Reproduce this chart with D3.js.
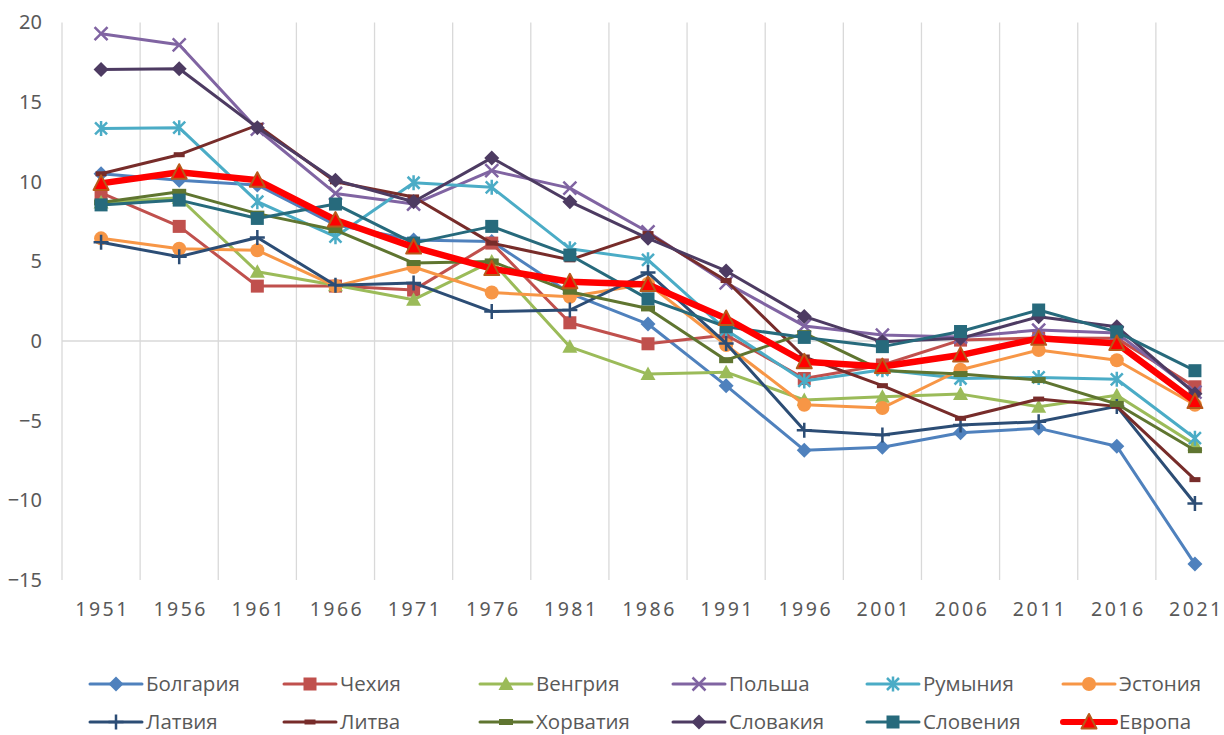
<!DOCTYPE html>
<html>
<head>
<meta charset="utf-8">
<script src="https://cdn.jsdelivr.net/npm/d3@7"></script>
<style>
  body { margin: 0; background: #fff; }
  text { fill: #595959; }
</style>
</head>
<body>
<svg class="display"></svg>
<script>
const years = ['1951', '1956', '1961', '1966', '1971', '1976', '1981', '1986', '1991', '1996', '2001', '2006', '2011', '2016', '2021'];
const yTicks = [-15, -10, -5, 0, 5, 10, 15, 20];

const bulgaria  = [10.5, 10.1, 9.8, 7.3, 6.35, 6.25, 3.0, 1.07, -2.8, -6.85, -6.67, -5.75, -5.48, -6.6, -14.0];
const czechia   = [9.3, 7.2, 3.45, 3.45, 3.2, 6.15, 1.15, -0.17, 0.38, -2.35, -1.5, 0.06, 0.2, 0.17, -2.87];
const hungary   = [8.7, 9.0, 4.35, 3.5, 2.6, 5.0, -0.36, -2.07, -1.95, -3.7, -3.5, -3.33, -4.12, -3.4, -6.5];
const poland    = [19.3, 18.6, 13.3, 9.27, 8.6, 10.7, 9.6, 6.85, 3.65, 0.95, 0.38, 0.25, 0.69, 0.5, -3.2];
const romania   = [13.35, 13.4, 8.75, 6.55, 9.94, 9.65, 5.8, 5.1, 0.7, -2.5, -1.8, -2.35, -2.28, -2.4, -6.1];
const estonia   = [6.45, 5.8, 5.7, 3.45, 4.65, 3.05, 2.78, 3.6, -0.25, -4.0, -4.2, -1.8, -0.56, -1.2, -4.0];
const latvia    = [6.2, 5.3, 6.5, 3.5, 3.65, 1.85, 1.95, 4.3, -0.15, -5.6, -5.9, -5.27, -5.06, -4.1, -10.2];
const lithuania = [10.5, 11.7, 13.55, 10.0, 9.05, 6.15, 5.1, 6.75, 3.8, -1.0, -2.8, -4.85, -3.64, -4.1, -8.7];
const croatia   = [8.7, 9.37, 8.0, 6.97, 4.9, 5.0, 3.1, 2.05, -1.2, 0.5, -1.85, -2.07, -2.45, -3.95, -6.85];
const slovakia  = [17.05, 17.1, 13.4, 10.1, 8.75, 11.5, 8.75, 6.45, 4.4, 1.55, -0.05, 0.17, 1.53, 0.9, -3.3];
const slovenia  = [8.55, 8.85, 7.7, 8.6, 6.15, 7.2, 5.4, 2.65, 0.9, 0.23, -0.35, 0.6, 1.95, 0.58, -1.86];
const europe    = [9.9, 10.6, 10.1, 7.6, 5.9, 4.55, 3.72, 3.55, 1.42, -1.3, -1.6, -0.88, 0.17, -0.15, -3.8];

const series = [
  { name: 'Болгария', values: bulgaria,  color: '#4F81BD', marker: 'diamond' },
  { name: 'Чехия',    values: czechia,   color: '#C0504D', marker: 'square' },
  { name: 'Венгрия',  values: hungary,   color: '#9BBB59', marker: 'triangle' },
  { name: 'Польша',   values: poland,    color: '#8064A2', marker: 'x' },
  { name: 'Румыния',  values: romania,   color: '#4BACC6', marker: 'star' },
  { name: 'Эстония',  values: estonia,   color: '#F79646', marker: 'circle' },
  { name: 'Латвия',   values: latvia,    color: '#2C4D75', marker: 'plus' },
  { name: 'Литва',    values: lithuania, color: '#772C2A', marker: 'dashSmall' },
  { name: 'Хорватия', values: croatia,   color: '#5F7530', marker: 'dash' },
  { name: 'Словакия', values: slovakia,  color: '#4D3B62', marker: 'diamond' },
  { name: 'Словения', values: slovenia,  color: '#276A7C', marker: 'square' },
  { name: 'Европа',   values: europe,    color: '#FF0000', marker: 'bigTriangle', width: 6.5 }
];

const width = 1224;
const height = 735;

const svg = d3.select('.display')
  .attr('width', width)
  .attr('height', height);

const x = d3.scalePoint()
  .domain(years)
  .range([62, 1234])
  .padding(0.5);

const y = d3.scaleLinear()
  .domain([-15, 20])
  .range([580, 22.5]);

const step = x.step();

// vertical gridlines between categories
svg.append('g')
  .selectAll('line')
  .data(d3.range(years.length + 1))
  .join('line')
    .attr('x1', i => 62 + i * step)
    .attr('x2', i => 62 + i * step)
    .attr('y1', y(20))
    .attr('y2', y(-15))
    .attr('stroke', '#d9d9d9')
    .attr('stroke-width', 1.3);

// zero line (category axis)
svg.append('line')
  .attr('x1', 62)
  .attr('x2', 1234)
  .attr('y1', y(0))
  .attr('y2', y(0))
  .attr('stroke', '#d9d9d9')
  .attr('stroke-width', 1.5);

// y axis labels
const yAxis = svg.append('g')
  .attr('transform', 'translate(48,0)')
  .call(d3.axisLeft(y).tickValues(yTicks).tickSize(0).tickPadding(6));
yAxis.select('.domain').remove();
yAxis.selectAll('text')
  .style('font-family', '"Noto Sans", sans-serif')
  .style('font-size', '20px')
  .style('fill', '#595959');

// x axis labels
const xAxis = svg.append('g')
  .attr('transform', 'translate(0,602)')
  .call(d3.axisBottom(x).tickSize(0).tickPadding(0));
xAxis.select('.domain').remove();
xAxis.selectAll('text')
  .attr('dx', 1)
  .style('font-family', '"Noto Sans", sans-serif')
  .style('font-size', '19.5px')
  .style('letter-spacing', '2.5px')
  .style('fill', '#595959');

function drawMarker(sel, type, color) {
  switch (type) {
    case 'diamond':
      sel.append('path').attr('d', 'M0,-7.5L7.5,0L0,7.5L-7.5,0Z').attr('fill', color);
      break;
    case 'square':
      sel.append('rect').attr('x', -6.5).attr('y', -6.5).attr('width', 13).attr('height', 13).attr('fill', color);
      break;
    case 'triangle':
      sel.append('path').attr('d', 'M0,-7.5L7.5,6L-7.5,6Z').attr('fill', color);
      break;
    case 'bigTriangle':
      sel.append('path').attr('d', 'M0,-8L7.5,6.5L-7.5,6.5Z')
        .attr('fill', '#FF0000').attr('stroke', '#B8591A').attr('stroke-width', 2).attr('stroke-linejoin', 'round');
      break;
    case 'circle':
      sel.append('circle').attr('r', 7).attr('fill', color);
      break;
    case 'x':
      sel.append('path').attr('d', 'M-6.5,-6.5L6.5,6.5M-6.5,6.5L6.5,-6.5')
        .attr('stroke', color).attr('stroke-width', 2.5).attr('fill', 'none');
      break;
    case 'star':
      sel.append('path').attr('d', 'M-6,-6L6,6M-6,6L6,-6M0,-7.5L0,7.5')
        .attr('stroke', color).attr('stroke-width', 2.5).attr('fill', 'none');
      break;
    case 'plus':
      sel.append('path').attr('d', 'M-7.5,0L7.5,0M0,-7.5L0,7.5')
        .attr('stroke', color).attr('stroke-width', 2.5).attr('fill', 'none');
      break;
    case 'dashSmall':
      sel.append('rect').attr('x', -5.5).attr('y', -2.5).attr('width', 11).attr('height', 5).attr('fill', color);
      break;
    case 'dash':
      sel.append('rect').attr('x', -7).attr('y', -3).attr('width', 14).attr('height', 6).attr('fill', color);
      break;
  }
}

const line = d3.line()
  .x((d, i) => x(years[i]))
  .y(d => y(d));

series.forEach(s => {
  const g = svg.append('g');
  g.append('path')
    .datum(s.values)
    .attr('d', line)
    .attr('fill', 'none')
    .attr('stroke', s.color)
    .attr('stroke-width', s.width || 3)
    .attr('stroke-linejoin', 'round')
    .attr('stroke-linecap', 'round');
  g.selectAll('g.m')
    .data(s.values)
    .join('g')
      .attr('class', 'm')
      .attr('transform', (d, i) => 'translate(' + x(years[i]) + ',' + y(d) + ')')
      .each(function () { drawMarker(d3.select(this), s.marker, s.color); });
});

// legend
const legendX = [116, 310, 506, 699, 893, 1089];
const legendY = [684, 722];

const legend = svg.append('g')
  .selectAll('g')
  .data(series)
  .join('g')
    .attr('transform', (d, i) => 'translate(' + legendX[i % 6] + ',' + legendY[Math.floor(i / 6)] + ')');

legend.append('line')
  .attr('x1', -26)
  .attr('x2', 26)
  .attr('stroke', d => d.color)
  .attr('stroke-width', d => d.width ? 6 : 3)
  .attr('stroke-linecap', 'round');

legend.each(function (d) { drawMarker(d3.select(this), d.marker, d.color); });

legend.append('text')
  .attr('x', 30)
  .attr('dy', '0.36em')
  .style('font-family', '"Open Sans", sans-serif')
  .style('font-size', '20.5px')
  .style('fill', '#595959')
  .text(d => d.name);
</script>
</body>
</html>
